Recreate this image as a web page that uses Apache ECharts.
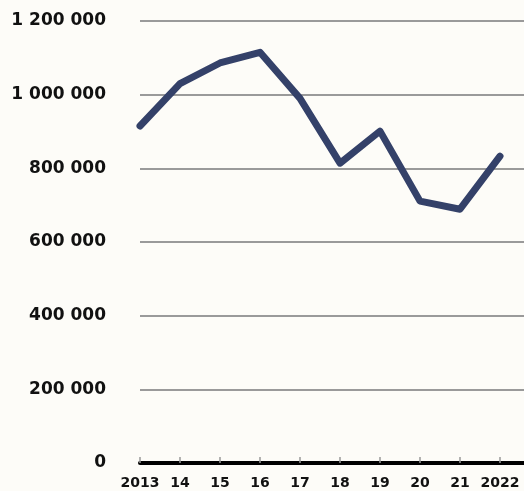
<!DOCTYPE html>
<html>
<head>
<meta charset="utf-8">
<script src="https://cdn.jsdelivr.net/npm/echarts@6/dist/echarts.min.js"></script>
<style>
    html, body {margin: 0; padding: 0; background: #fdfcf8;}
    #myChart {width: 524px; height: 491px;}
</style>
</head>
<body>
<div id="myChart"></div>
<script>
    var years = [2013, 2014, 2015, 2016, 2017, 2018, 2019, 2020, 2021, 2022];
    var values = [915000, 1030000, 1086000, 1115000, 990000, 814000, 901000, 711000, 689000, 833000];
    var yTicks = [0, 200000, 400000, 600000, 800000, 1000000, 1200000];

    var seriesData = [];
    for (var i = 0; i < years.length; i++) {
        seriesData.push([years[i], values[i]]);
    }

    // 1200000 -> "1 200 000"
    function spaced(v) {
        return String(v).replace(/\B(?=(\d{3})+(?!\d))/g, ' ');
    }

    var myChart = echarts.init(document.getElementById('myChart'));
    var option = {
        backgroundColor: '#fdfcf8',
        animation: false,
        grid: {left: 140, right: 0, top: 21, bottom: 28},
        xAxis: {
            type: 'value',
            min: 2013,
            max: 2022.6,
            interval: 1,
            splitLine: {show: false},
            axisLine: {show: true, lineStyle: {color: '#000', width: 4}},
            axisTick: {show: true, inside: true, length: 6, lineStyle: {color: '#999', width: 1.5}},
            axisLabel: {
                margin: 13,
                color: '#111',
                fontFamily: 'DejaVu Sans',
                fontWeight: 'bold',
                fontSize: 14,
                showMaxLabel: false,
                formatter: function (v) {
                    if (v !== Math.round(v)) return '';
                    if (v === years[0] || v === years[years.length - 1]) return String(v);
                    return String(v).slice(2);
                }
            }
        },
        yAxis: {
            type: 'value',
            min: yTicks[0],
            max: yTicks[yTicks.length - 1],
            interval: 200000,
            axisLine: {show: false},
            axisTick: {show: false},
            splitLine: {lineStyle: {color: '#9a9a9a', width: 2}},
            axisLabel: {
                margin: 34,
                color: '#111',
                fontFamily: 'DejaVu Sans',
                fontWeight: 'bold',
                fontSize: 17,
                formatter: function (v) {
                    return spaced(v);
                }
            }
        },
        series: [{
            type: 'line',
            data: seriesData,
            showSymbol: false,
            lineStyle: {color: '#344169', width: 7, cap: 'round', join: 'round'}
        }]
    };
    myChart.setOption(option);
</script>
</body>
</html>
